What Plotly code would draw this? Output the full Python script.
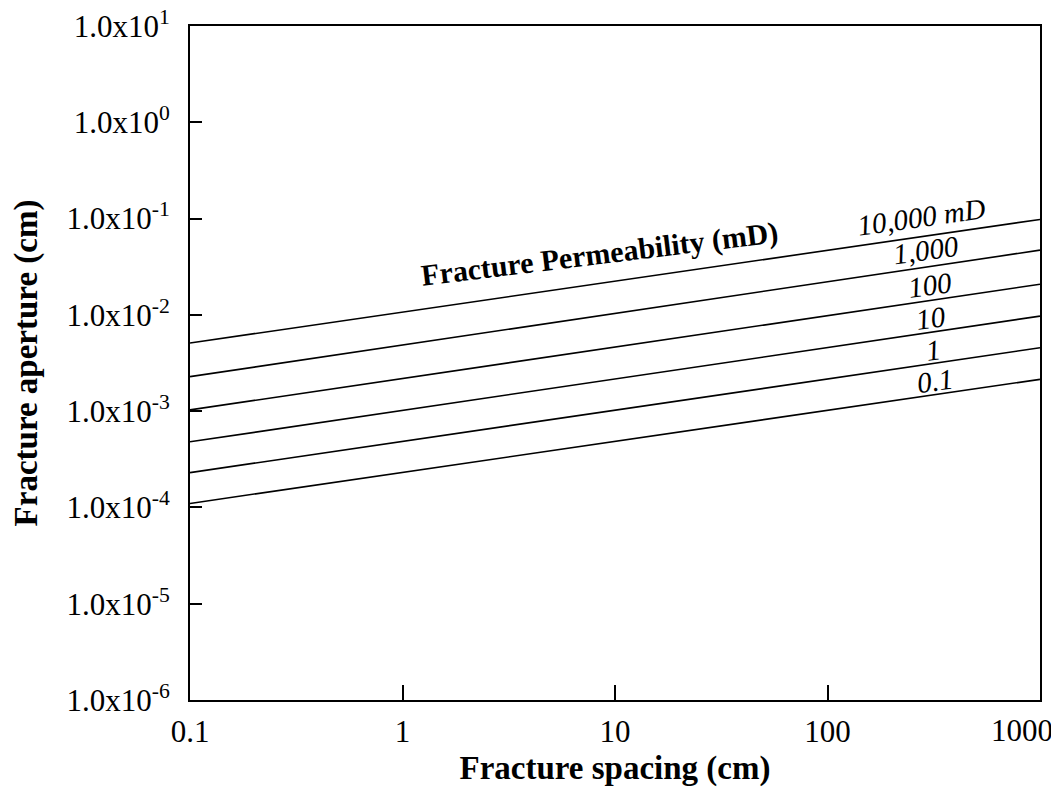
import plotly.graph_objects as go

# Fracture spacing (cm) at the two ends of each line
spacing_cm = [0.1, 1000]

# Fracture aperture (cm) for each permeability line
perm_labels = ["10,000 mD", "1,000", "100", "10", "1", "0.1"]
aperture_10000 = [5.1e-3, 0.098]
aperture_1000 = [2.28e-3, 0.047]
aperture_100 = [1.03e-3, 0.0208]
aperture_10 = [4.8e-4, 9.7e-3]
aperture_1 = [2.3e-4, 4.55e-3]
aperture_01 = [1.1e-4, 2.14e-3]
apertures = [aperture_10000, aperture_1000, aperture_100, aperture_10, aperture_1, aperture_01]

# label positions (paper coords) near the right end of each line
label_x = [0.860, 0.866, 0.871, 0.872, 0.875, 0.876]
label_y = [0.716, 0.668, 0.616, 0.567, 0.519, 0.473]

y_tickvals = [1e1, 1e0, 1e-1, 1e-2, 1e-3, 1e-4, 1e-5, 1e-6]
y_ticktext = ["1.0x10<sup>1</sup>", "1.0x10<sup>0</sup>", "1.0x10<sup>-1</sup>",
              "1.0x10<sup>-2</sup>", "1.0x10<sup>-3</sup>", "1.0x10<sup>-4</sup>",
              "1.0x10<sup>-5</sup>", "1.0x10<sup>-6</sup>"]
x_tickvals = [0.1, 1, 10, 100, 1000]
x_ticktext = ["0.1", "1", "10", "100", "1000"]

FONT = "Liberation Serif"

fig = go.Figure()
for name, ap in zip(perm_labels, apertures):
    fig.add_trace(go.Scatter(x=spacing_cm, y=ap, mode="lines", name=name,
                             line=dict(color="black", width=1.6), showlegend=False))

for txt, lx, ly in zip(perm_labels, label_x, label_y):
    fig.add_annotation(x=lx, y=ly, xref="paper", yref="paper", text=f"<i>{txt}</i>",
                       xanchor="center", yanchor="middle",
                       showarrow=False, textangle=-8,
                       font=dict(family=FONT, size=29, color="black"))

fig.add_annotation(x=0.482, y=0.662, xref="paper", yref="paper",
                   xanchor="center", yanchor="middle",
                   text="<b>Fracture Permeability (mD)</b>", showarrow=False, textangle=-7,
                   font=dict(family=FONT, size=30, color="black"))

# last x tick label sits just left of the axis end in the original (kept inside the page)
fig.add_annotation(x=1, y=0, xref="paper", yref="paper", text=x_ticktext[-1],
                   xanchor="center", yanchor="top", xshift=-18, yshift=-11,
                   showarrow=False, font=dict(family=FONT, size=31, color="black"))

fig.update_xaxes(type="log", range=[-1, 3], tickvals=x_tickvals,
                 ticktext=x_ticktext[:-1] + [""],
                 ticks="inside", ticklen=15, tickwidth=1.5, tickcolor="black",
                 showline=True, linecolor="black", linewidth=2, mirror=True,
                 showgrid=False, zeroline=False, ticklabelstandoff=3, automargin=False,
                 tickfont=dict(family=FONT, size=31, color="black"),
                 title=dict(text="<b>Fracture spacing (cm)</b>", standoff=8,
                            font=dict(family=FONT, size=33, color="black")))
fig.update_yaxes(type="log", range=[-6, 1], tickvals=y_tickvals, ticktext=y_ticktext,
                 ticks="inside", ticklen=12, tickwidth=1.5, tickcolor="black",
                 showline=True, linecolor="black", linewidth=2, mirror=True,
                 showgrid=False, zeroline=False, ticklabelstandoff=12, automargin=False,
                 ticklabeloverflow="allow",
                 tickfont=dict(family=FONT, size=31, color="black"),
                 title=dict(text="<b>Fracture aperture (cm)</b>", standoff=23,
                            font=dict(family=FONT, size=33, color="black")))

fig.update_layout(width=1059, height=799, margin=dict(l=182, r=27, t=18, b=107),
                  template="none", plot_bgcolor="white", paper_bgcolor="white",
                  font=dict(family=FONT, color="black"))

fig.write_html("out.html")
